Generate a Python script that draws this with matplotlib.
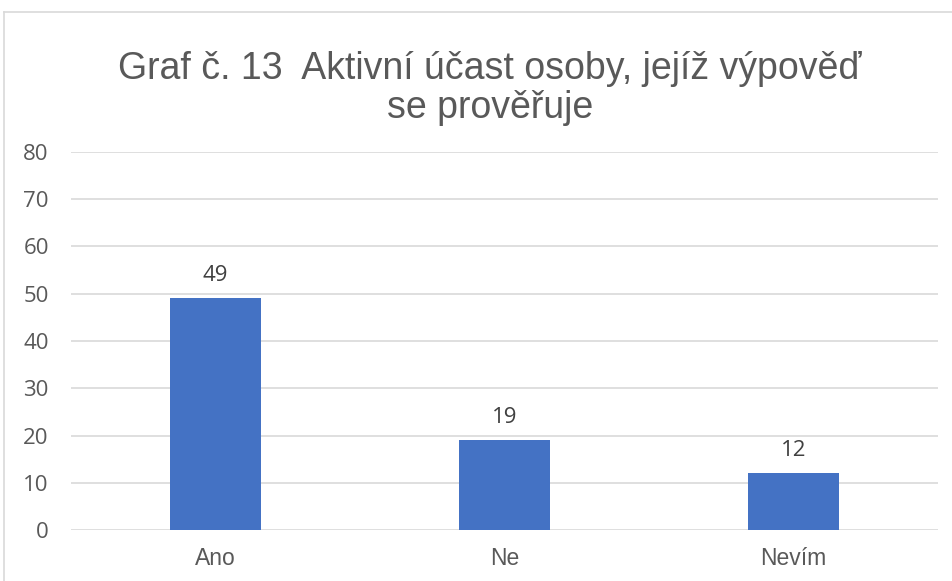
import matplotlib
matplotlib.use('Agg')
from matplotlib import pyplot as plt
from matplotlib.lines import Line2D

categories = ['Ano', 'Ne', 'Nevím']
values = [49, 19, 12]
yticks = [0, 10, 20, 30, 40, 50, 60, 70, 80]
title_lines = ['Graf č. 13  Aktivní účast osoby, jejíž výpověď', 'se prověřuje']

title_font = 'Liberation Sans'
label_font = 'Open Sans'

W, H = 953, 581
fig = plt.figure(figsize=(W / 100, H / 100), dpi=100)
ax = fig.add_axes([71 / W, 1 - 530 / H, (938 - 71) / W, (530 - 152) / H])

x = range(len(categories))
bars = ax.bar(x, values, width=0.315, color='#4472C4', zorder=3)
ax.set_xlim(-0.5, len(categories) - 0.5)
ax.set_ylim(0, 80)
ax.set_yticks(yticks)
ax.set_xticks(list(x))
ax.set_xticklabels(categories)
ax.grid(axis='y', color='#D9D9D9', linewidth=1.2, zorder=0)
for s in ax.spines.values():
    s.set_visible(False)
ax.tick_params(length=0, colors='#595959')
ax.tick_params(axis='y', pad=16, labelsize=16)
ax.tick_params(axis='x', pad=12, labelsize=16.5)
for t in ax.get_yticklabels():
    t.set_fontfamily(label_font)
for t in ax.get_xticklabels():
    t.set_fontfamily(title_font)

for b, v in zip(bars, values):
    ax.annotate(str(v), (b.get_x() + b.get_width() / 2, v), xytext=(0, 9),
                textcoords='offset points', ha='center', va='bottom',
                fontsize=16, color='#404040', family=label_font)

# title, one text per line so the baselines sit where the reference has them
for line, base in zip(title_lines, [79, 118]):
    fig.text(490 / W, 1 - base / H, line, ha='center', va='baseline',
             fontsize=27, color='#595959', family=title_font)

# chart border (cropped at right and bottom)
fig.add_artist(Line2D([4 / W, 4 / W], [0, 1 - 12 / H], color='#D9D9D9', linewidth=1.2))
fig.add_artist(Line2D([4 / W, 1], [1 - 12 / H, 1 - 12 / H], color='#D9D9D9', linewidth=1.2))

fig.savefig('out.png', dpi=100)
